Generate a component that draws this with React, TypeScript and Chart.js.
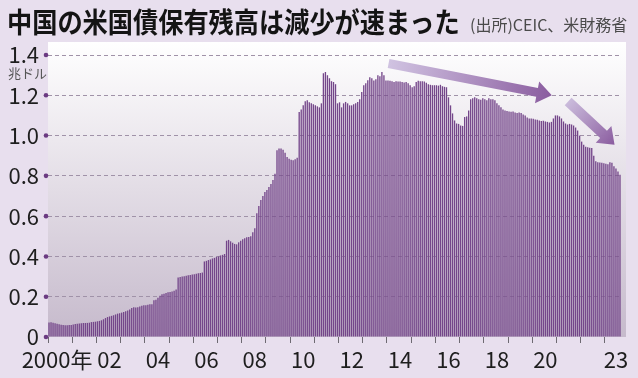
import React, { useEffect, useRef } from 'react';
import { Chart, registerables } from 'chart.js';

Chart.register(...registerables);

const FONT = '"Noto Sans CJK JP", "Noto Sans", sans-serif';

// China's holdings of US Treasuries, trillion USD, monthly (Jan 2000 – Aug 2023)
const y2000 = [0.072, 0.073, 0.071, 0.068, 0.066, 0.063, 0.061, 0.059, 0.058, 0.058, 0.059, 0.060];
const y2001 = [0.062, 0.064, 0.066, 0.067, 0.068, 0.069, 0.069, 0.070, 0.071, 0.074, 0.075, 0.076];
const y2002 = [0.078, 0.080, 0.083, 0.088, 0.094, 0.099, 0.102, 0.105, 0.108, 0.112, 0.116, 0.118];
const y2003 = [0.121, 0.124, 0.128, 0.132, 0.136, 0.144, 0.148, 0.147, 0.148, 0.152, 0.155, 0.158];
const y2004 = [0.158, 0.160, 0.162, 0.163, 0.182, 0.185, 0.195, 0.205, 0.212, 0.215, 0.218, 0.222];
const y2005 = [0.223, 0.226, 0.230, 0.236, 0.296, 0.298, 0.300, 0.302, 0.304, 0.306, 0.308, 0.310];
const y2006 = [0.312, 0.314, 0.316, 0.318, 0.320, 0.375, 0.378, 0.382, 0.385, 0.390, 0.393, 0.397];
const y2007 = [0.400, 0.405, 0.408, 0.412, 0.478, 0.482, 0.475, 0.468, 0.462, 0.460, 0.470, 0.478];
const y2008 = [0.485, 0.490, 0.495, 0.497, 0.500, 0.520, 0.540, 0.614, 0.650, 0.680, 0.700, 0.720];
const y2009 = [0.730, 0.745, 0.760, 0.780, 0.810, 0.927, 0.936, 0.936, 0.930, 0.915, 0.893, 0.885];
const y2010 = [0.880, 0.878, 0.882, 0.890, 1.117, 1.130, 1.150, 1.170, 1.175, 1.165, 1.160, 1.155];
const y2011 = [1.150, 1.145, 1.140, 1.160, 1.310, 1.315, 1.300, 1.285, 1.270, 1.266, 1.255, 1.160];
const y2012 = [1.165, 1.140, 1.160, 1.167, 1.160, 1.150, 1.150, 1.155, 1.160, 1.167, 1.180, 1.216];
const y2013 = [1.250, 1.260, 1.275, 1.290, 1.285, 1.274, 1.280, 1.300, 1.295, 1.315, 1.300, 1.274];
const y2014 = [1.274, 1.272, 1.270, 1.266, 1.270, 1.268, 1.268, 1.266, 1.264, 1.266, 1.260, 1.250];
const y2015 = [1.240, 1.245, 1.266, 1.272, 1.270, 1.270, 1.268, 1.262, 1.255, 1.252, 1.250, 1.250];
const y2016 = [1.250, 1.248, 1.252, 1.245, 1.242, 1.240, 1.190, 1.150, 1.110, 1.075, 1.060, 1.058];
const y2017 = [1.050, 1.048, 1.092, 1.095, 1.125, 1.180, 1.185, 1.190, 1.185, 1.180, 1.178, 1.185];
const y2018 = [1.180, 1.175, 1.185, 1.180, 1.180, 1.175, 1.160, 1.150, 1.140, 1.130, 1.125, 1.122];
const y2019 = [1.120, 1.118, 1.120, 1.115, 1.112, 1.115, 1.112, 1.105, 1.100, 1.090, 1.085, 1.085];
const y2020 = [1.083, 1.080, 1.078, 1.075, 1.072, 1.074, 1.070, 1.068, 1.065, 1.068, 1.085, 1.100];
const y2021 = [1.100, 1.095, 1.085, 1.070, 1.060, 1.055, 1.058, 1.055, 1.050, 1.040, 1.025, 1.000];
const y2022 = [0.970, 0.955, 0.945, 0.942, 0.940, 0.938, 0.900, 0.872, 0.868, 0.866, 0.865, 0.862];
const y2023 = [0.860, 0.858, 0.868, 0.865, 0.848, 0.836, 0.822, 0.805];

const yearSeries = [y2000, y2001, y2002, y2003, y2004, y2005, y2006, y2007, y2008, y2009, y2010, y2011,
  y2012, y2013, y2014, y2015, y2016, y2017, y2018, y2019, y2020, y2021, y2022, y2023];
const startYear = 2000;

const values: number[] = [];
const monthLabels: string[] = [];
yearSeries.forEach((arr, yi) => {
  arr.forEach((v, mi) => {
    values.push(v);
    monthLabels.push(`${startYear + yi}-${String(mi + 1).padStart(2, '0')}`);
  });
});

// x-axis labels: month index where each label sits, and its text
const xLabelIndex = [4, 30, 54, 78, 102, 126, 150, 174, 198, 222, 246, 281];
const xLabelText = ['2000年', '02', '04', '06', '08', '10', '12', '14', '16', '18', '20', '23'];

const yMin = 0;
const yMax = 1.4;
const yStep = 0.2;

// annotation arrows in data space: [monthIndex, value]
const arrow1From = [168.3, 1.358];
const arrow1To = [249.2, 1.2];
const arrow2From = [257.3, 1.169];
const arrow2To = [280.3, 0.955];

const TITLE = '中国の米国債保有残高は減少が速まった';
const SOURCE = '(出所)CEIC、米財務省';
const UNIT = '兆ドル';

function drawArrow(ctx: CanvasRenderingContext2D, x1: number, y1: number, x2: number, y2: number,
  w: number, hw: number, hl: number, c1: string, c2: string) {
  const dx = x2 - x1, dy = y2 - y1;
  const len = Math.hypot(dx, dy);
  const ux = dx / len, uy = dy / len;
  const nx = -uy, ny = ux;
  const bx = x2 - ux * hl, by = y2 - uy * hl;
  const g = ctx.createLinearGradient(x1, y1, x2, y2);
  g.addColorStop(0, c1);
  g.addColorStop(1, c2);
  ctx.beginPath();
  ctx.moveTo(x1 + nx * w / 2, y1 + ny * w / 2);
  ctx.lineTo(bx + nx * w / 2, by + ny * w / 2);
  ctx.lineTo(bx + nx * hw / 2, by + ny * hw / 2);
  ctx.lineTo(x2, y2);
  ctx.lineTo(bx - nx * hw / 2, by - ny * hw / 2);
  ctx.lineTo(bx - nx * w / 2, by - ny * w / 2);
  ctx.lineTo(x1 - nx * w / 2, y1 - ny * w / 2);
  ctx.closePath();
  ctx.fillStyle = g;
  ctx.fill();
}

const panelPlugin = {
  id: 'panel',
  beforeDraw(chart: any) {
    const { ctx, chartArea } = chart;
    const top = chartArea.top - 13;
    const right = chartArea.right + 5;
    ctx.save();
    const g = ctx.createLinearGradient(0, top, 0, chartArea.bottom);
    g.addColorStop(0, '#ffffff');
    g.addColorStop(1, '#c6bacc');
    ctx.fillStyle = g;
    ctx.fillRect(chartArea.left, top, right - chartArea.left, chartArea.bottom - top);
    ctx.restore();
  },
  afterDraw(chart: any) {
    const { ctx, chartArea, scales } = chart;
    const x = scales.x, y = scales.y;
    ctx.save();
    // dots on the y axis
    ctx.fillStyle = '#6b3a82';
    y.ticks.forEach((t: any) => {
      ctx.beginPath();
      ctx.arc(chartArea.left - 2, y.getPixelForValue(t.value), 2.3, 0, Math.PI * 2);
      ctx.fill();
    });
    drawArrow(ctx, x.getPixelForValue(arrow1From[0]), y.getPixelForValue(arrow1From[1]),
      x.getPixelForValue(arrow1To[0]), y.getPixelForValue(arrow1To[1]), 9, 22, 15,
      'rgba(206,192,224,0.95)', '#8a5c9f');
    drawArrow(ctx, x.getPixelForValue(arrow2From[0]), y.getPixelForValue(arrow2From[1]),
      x.getPixelForValue(arrow2To[0]), y.getPixelForValue(arrow2To[1]), 10, 23, 15,
      'rgba(200,184,218,0.95)', '#8a5c9f');
    ctx.restore();
  },
};

export default function App() {
  const ref = useRef<HTMLCanvasElement>(null);
  useEffect(() => {
    const chart = new Chart(ref.current as HTMLCanvasElement, {
      type: 'bar',
      data: {
        labels: monthLabels,
        datasets: [{
          data: values,
          backgroundColor: '#74468a',
          borderWidth: 0,
          barPercentage: 0.66,
          categoryPercentage: 1,
        }],
      },
      options: {
        responsive: false,
        animation: false,
        devicePixelRatio: 1,
        layout: { padding: { top: 55, right: 17, left: 0, bottom: 0 } },
        plugins: { legend: { display: false }, tooltip: { enabled: false } },
        scales: {
          x: {
            offset: true,
            grid: {
              offset: true,
              drawOnChartArea: false,
              drawTicks: true,
              tickLength: 6,
              tickWidth: 1,
              color: (c: any) => (c.index % 12 === 0 ? '#6e6a72' : 'rgba(0,0,0,0)'),
            },
            border: { display: false },
            ticks: {
              autoSkip: false,
              maxRotation: 0,
              minRotation: 0,
              padding: 3,
              color: '#1e1e1e',
              font: { family: FONT, size: 22 },
              callback: (_v: any, i: number) => {
                const k = xLabelIndex.indexOf(i);
                return k >= 0 ? xLabelText[k] : '';
              },
            },
            afterFit: (s: any) => { s.height = 41; },
          },
          y: {
            min: yMin,
            max: yMax,
            ticks: {
              stepSize: yStep,
              padding: 9,
              color: '#1e1e1e',
              font: { family: FONT, size: 22 },
              callback: (v: any) => (Number(v) === 0 ? '0' : Number(v).toFixed(1)),
            },
            grid: {
              drawTicks: false,
              lineWidth: 1,
              color: (c: any) => (c.tick && c.tick.value === 0 ? 'rgba(0,0,0,0)' : '#a092a8'),
            },
            border: { display: false, dash: [4, 3] },
            afterFit: (s: any) => { s.width = 48; },
          },
        },
      },
      plugins: [panelPlugin],
    } as any);
    return () => chart.destroy();
  }, []);

  return (
    <div style={{ position: 'absolute', left: 0, top: 0, width: 638, height: 378, background: '#e8dfee', overflow: 'hidden', fontFamily: FONT }}>
      <canvas ref={ref} width={638} height={378} style={{ position: 'absolute', left: 0, top: 0, width: 638, height: 378 }} />
      <div style={{ position: 'absolute', left: 7, top: 0, fontSize: 28, fontWeight: 700, color: '#141414', lineHeight: '42px', whiteSpace: 'nowrap', transform: 'scaleX(0.9)', transformOrigin: 'left top' }}>{TITLE}</div>
      <div style={{ position: 'absolute', left: 470, top: 12, fontSize: 16, color: '#4a4a4a', lineHeight: '24px', whiteSpace: 'nowrap' }}>{SOURCE}</div>
      <div style={{ position: 'absolute', left: 8, top: 64, fontSize: 13, color: '#555', lineHeight: '18px', whiteSpace: 'nowrap' }}>{UNIT}</div>
    </div>
  );
}
